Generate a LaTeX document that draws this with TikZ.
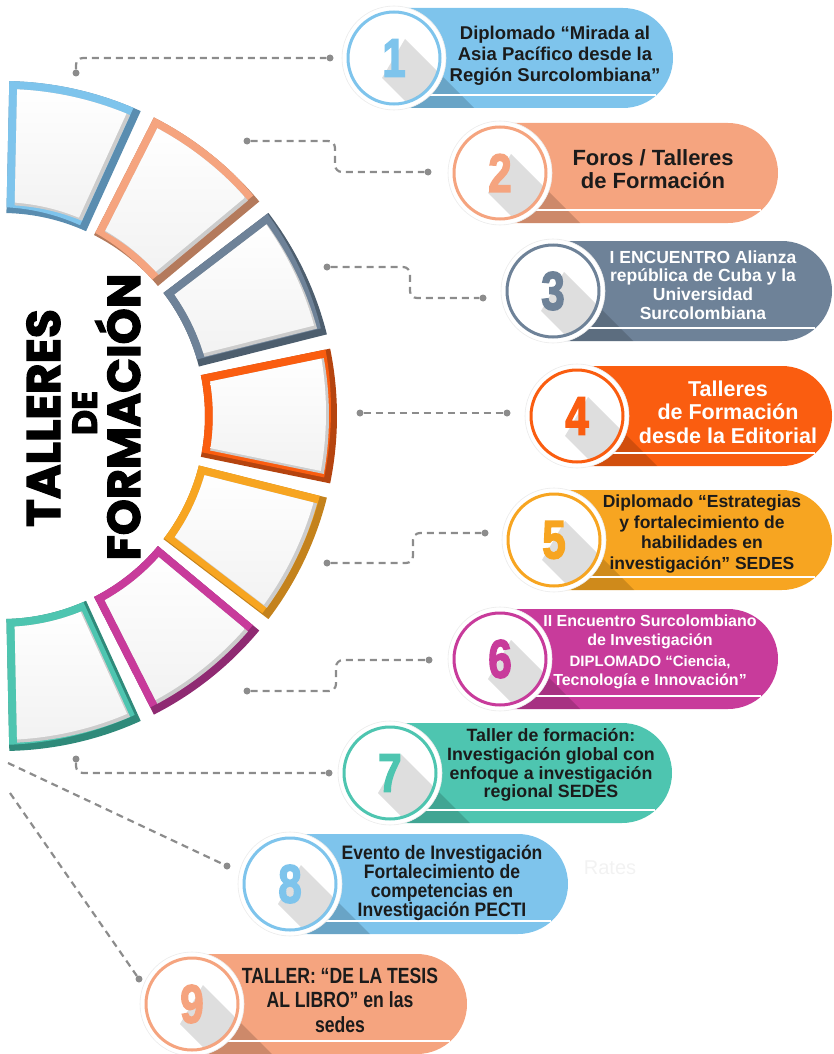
\documentclass[tikz,border=0pt]{standalone}
\usepackage{fontspec}
\setmainfont{Liberation Sans}
\newfontfamily\titlefont{Poppins}[BoldFeatures={FakeBold=2.5}]
\newfontfamily\numfont{Liberation Sans}[BoldFeatures={FakeBold=3}]
\usetikzlibrary{calc}
\definecolor{cBlue}{HTML}{7EC4EC}
\definecolor{cBlueD}{HTML}{5A8DB0}
\definecolor{cPeach}{HTML}{F5A47F}
\definecolor{cPeachD}{HTML}{B47A5C}
\definecolor{cSlate}{HTML}{6E8298}
\definecolor{cSlateD}{HTML}{4D5E6E}
\definecolor{cOrange}{HTML}{FA5D10}
\definecolor{cOrangeD}{HTML}{B5440F}
\definecolor{cYellow}{HTML}{F7A521}
\definecolor{cYellowD}{HTML}{C4821C}
\definecolor{cMag}{HTML}{C83B9B}
\definecolor{cMagD}{HTML}{8F2A72}
\definecolor{cTeal}{HTML}{4EC5B0}
\definecolor{cTealD}{HTML}{2F8A7A}
\definecolor{cText}{HTML}{1B1B1B}
\definecolor{cLine}{HTML}{8C8C8C}
\newcommand\nx[1]{\scalebox{0.9}[1]{#1}}
\newcommand\nxx[1]{\scalebox{0.8}[1]{#1}}
% annular segment: #1 start angle, #2 end angle (visual, ccw), #3 main, #4 dark
\newcommand\Seg[4]{%
 \def\OUTP{({-(#1)}:335) arc[start angle={-(#1)}, end angle={-(#2)}, radius=335] -- ({-(#2)}:203) arc[start angle={-(#2)}, end angle={-(#1)}, radius=203] -- cycle}%
 \def\INP{({-(#1-1.4)}:327) arc[start angle={-(#1-1.4)}, end angle={-(#2+1.4)}, radius=327] -- ({-(#2+2.2)}:211) arc[start angle={-(#2+2.2)}, end angle={-(#1-2.2)}, radius=211] -- cycle}%
 \begin{scope}[shift={(2,416)}]
  \fill[#4] \OUTP;
  \begin{scope}
   \clip \OUTP;
   \begin{scope}[shift={(-6,-6)}]\fill[#3] \OUTP;\end{scope}
  \end{scope}
  \fill[black!20] \INP;
  \begin{scope}
   \clip \INP;
   \begin{scope}[shift={(-3,-3)}]\shade[top color=white, bottom color=black!5] \INP;\end{scope}
  \end{scope}
 \end{scope}}
% pill: #1 cx, #2 cy, #3 right end, #4 colour, #5 number, #6 name
\newcommand\Pill[6]{%
 \def\STAD{({#1},{#2-50}) -- ({#3-50},{#2-50}) arc[start angle=-90, end angle=90, radius=50] -- ({#1},{#2+50}) -- cycle}%
 \def\SHAD{({#1+11},{#2-19}) -- ++(170,170) -- ({#1-12+170},{#2+20+170}) -- ({#1-12},{#2+20}) -- cycle}%
 \fill[#4] \STAD;
 \begin{scope}\clip \STAD; \fill[black, opacity=.16] \SHAD; \end{scope}
 \draw[white, line width=2] ({#1},{#2+37}) -- ({#3-17},{#2+37});
 \node[circle, fill=white, draw=black!8, line width=.6, minimum size=104, inner sep=0] (#6) at (#1,#2) {};
 \draw[#4, line width=3] (#6.center) circle[radius=46];
 \begin{scope}\clip (#6.center) circle[radius=44.5]; \fill[black, opacity=.13] \SHAD; \end{scope}
 \node[text=#4, inner sep=0, font=\numfont\bfseries\fontsize{54}{54}\selectfont] (#6n) at (#1,#2) {\scalebox{.78}[1]{#5}};
}
\begin{document}
\begin{tikzpicture}[x=1pt,y=-1pt,
  conn/.style={cLine, line width=2.2, dash pattern=on 7 off 5, rounded corners=7},
  dotn/.style={circle, fill=cLine, inner sep=0, minimum size=7},
  ptxt/.style={align=center, inner sep=0},
  ttl/.style={rotate=90, anchor=base, inner sep=0, text=black}]
\useasboundingbox (0,0) rectangle (833,1054);
\clip (0,0) rectangle (833,1054);
% connectors
\node[dotn] (a1) at (76,73) {};  \node[dotn] (b1) at (330,58) {};
\node[dotn] (a2) at (247,141) {}; \node[dotn] (b2) at (428,172) {};
\node[dotn] (a3) at (327,267) {}; \node[dotn] (b3) at (483,298) {};
\node[dotn] (a4) at (360,413) {}; \node[dotn] (b4) at (507,413) {};
\node[dotn] (a5) at (327,563) {}; \node[dotn] (b5) at (485,533) {};
\node[dotn] (a6) at (247,691) {}; \node[dotn] (b6) at (429,660) {};
\node[dotn] (a7) at (76,759) {};  \node[dotn] (b7) at (329,773) {};
\coordinate (a8) at (8,763);      \node[dotn] (b8) at (227,866) {};
\coordinate (a9) at (10,793);     \node[dotn] (b9) at (139,979) {};
\draw[conn] (a1) |- (b1);
\draw[conn] (a2) -- (335,141) -- (335,172) -- (b2);
\draw[conn] (a3) -- (410,267) -- (410,298) -- (b3);
\draw[conn] (a4) -- (b4);
\draw[conn] (a5) -- (413,563) -- (413,533) -- (b5);
\draw[conn] (a6) -- (336,691) -- (336,660) -- (b6);
\draw[conn] (a7) |- (b7);
\draw[conn] (a8) -- (b8);
\draw[conn] (a9) -- (b9);
% ring segments
\Seg{88.75}{65.536}{cBlue}{cBlueD}
\Seg{63.036}{39.821}{cPeach}{cPeachD}
\Seg{37.321}{14.107}{cSlate}{cSlateD}
\Seg{11.607}{-11.607}{cOrange}{cOrangeD}
\Seg{-14.107}{-37.321}{cYellow}{cYellowD}
\Seg{-39.821}{-63.036}{cMag}{cMagD}
\Seg{-65.536}{-88.75}{cTeal}{cTealD}
% title
\node[ttl, font=\titlefont\bfseries\fontsize{47}{47}\selectfont] (tt1) at (60,418) {TALLERES};
\node[ttl, font=\titlefont\bfseries\fontsize{35}{35}\selectfont] (tt2) at (97,413) {DE};
\node[ttl, font=\titlefont\bfseries\fontsize{46}{46}\selectfont] (tt3) at (140,417) {FORMACIÓN};
% watermark
\node[text=black!5, font=\fontsize{20}{20}\selectfont] (wm) at (610,868) {Rates};
% pills
\Pill{394}{58}{673}{cBlue}{1}{p1}
\Pill{500}{173}{778}{cPeach}{2}{p2}
\Pill{553}{291}{832}{cSlate}{3}{p3}
\Pill{577}{416}{832}{cOrange}{4}{p4}
\Pill{554}{540}{832}{cYellow}{5}{p5}
\Pill{500}{659}{778}{cMag}{6}{p6}
\Pill{390}{773}{672}{cTeal}{7}{p7}
\Pill{290}{884}{568}{cBlue}{8}{p8}
\Pill{192}{1004}{467}{cPeach}{9}{p9}
% texts
\node[ptxt, text=cText, font=\bfseries\fontsize{18.5}{21}\selectfont] (t1) at (555,56) {Diplomado “Mirada al\\Asia Pacífico desde la\\Región Surcolombiana”};
\node[ptxt, text=cText, font=\bfseries\fontsize{22}{22.5}\selectfont] (t2) at (653,169) {Foros / Talleres\\de Formación};
\node[ptxt, text=white, font=\bfseries\fontsize{17.5}{18.7}\selectfont] (t3) at (703,285) {I ENCUENTRO Alianza\\república de Cuba y la\\Universidad\\Surcolombiana};
\node[ptxt, text=white, font=\bfseries\fontsize{21.5}{23.5}\selectfont] (t4) at (728,412) {Talleres\\de Formación\\desde la Editorial};
\node[ptxt, text=cText, font=\bfseries\fontsize{17.5}{20.7}\selectfont] (t5) at (702,534) {Diplomado “Estrategias\\y fortalecimiento de\\habilidades en\\investigación” SEDES};
\node[ptxt, text=white, font=\bfseries\fontsize{16}{19}\selectfont] (t6) at (650,652) {II Encuentro Surcolombiano\\de Investigación\\[2pt]\fontsize{15}{19}\selectfont DIPLOMADO “Ciencia,\\Tecnología e Innovación”};
\node[ptxt, text=cText, font=\bfseries\fontsize{17.8}{18.7}\selectfont] (t7) at (551,765) {Taller de formación:\\Investigación global con\\enfoque a investigación\\regional SEDES};
\node[ptxt, text=cText, font=\bfseries\fontsize{19.5}{19}\selectfont] (t8) at (442,883) {\nx{Evento de Investigación}\\\nx{Fortalecimiento de}\\\nx{competencias en}\\\nx{Investigación PECTI}};
\node[ptxt, text=cText, font=\bfseries\fontsize{22}{24.5}\selectfont] (t9) at (340,1000) {\nxx{TALLER: “DE LA TESIS}\\\nxx{AL LIBRO” en las}\\\nxx{sedes}};
\end{tikzpicture}
\end{document}
